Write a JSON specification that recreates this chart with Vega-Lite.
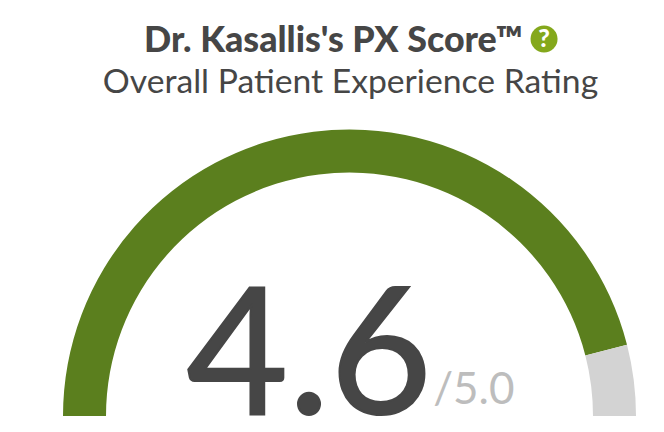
{
  "$schema": "https://vega.github.io/schema/vega-lite/v6.json",
  "width": 664, "height": 432, "padding": 0, "autosize": "none",
  "background": "white",
  "view": {"stroke": null},
  "config": {"font": "Lato"},
  "encoding": {
    "x": {"type": "quantitative", "scale": {"domain": [-1.2199, 1.0977], "nice": false, "zero": false}, "axis": null},
    "y": {"type": "quantitative", "scale": {"domain": [-0.0558, 1.4520], "nice": false, "zero": false}, "axis": null}
  },
  "layer": [
    {
      "data": {"values": [
        {"part": "score", "from": 0, "to": 4.6},
        {"part": "rest", "from": 4.6, "to": 5}
      ]},
      "mark": {"type": "arc", "radius": 286.5, "radius2": 243.5},
      "encoding": {
        "x": {"datum": 0, "type": "quantitative", "scale": {"domain": [-1.2199, 1.0977], "nice": false, "zero": false}, "axis": null},
        "y": {"datum": 0, "type": "quantitative", "scale": {"domain": [-0.0558, 1.4520], "nice": false, "zero": false}, "axis": null},
        "theta": {"field": "from", "type": "quantitative", "scale": {"domain": [0, 5], "range": [-1.5708, 1.5708]}},
        "theta2": {"field": "to"},
        "color": {"field": "part", "type": "nominal", "legend": null, "scale": {"domain": ["score", "rest"], "range": ["#5b7f1e", "#d3d3d3"]}}
      }
    },
    {
      "data": {"values": [{"t": "4.6"}]},
      "mark": {"type": "text", "fontSize": 176, "color": "#464646", "stroke": "#464646", "strokeWidth": 2, "align": "center", "baseline": "middle"},
      "encoding": {"x": {"datum": -0.141, "type": "quantitative"}, "y": {"datum": 0.191, "type": "quantitative"}, "text": {"field": "t"}}
    },
    {
      "data": {"values": [{"t": "/5.0"}]},
      "mark": {"type": "text", "fontSize": 44, "color": "#bdbdbd", "align": "left", "baseline": "alphabetic"},
      "encoding": {"x": {"datum": 0.292, "type": "quantitative"}, "y": {"datum": 0.042, "type": "quantitative"}, "text": {"field": "t"}}
    },
    {
      "data": {"values": [{"t": "Dr. Kasallis's PX Score™"}]},
      "mark": {"type": "text", "fontSize": 35.8, "fontWeight": 900, "color": "#464646", "align": "left", "baseline": "alphabetic"},
      "encoding": {"x": {"datum": -0.717, "type": "quantitative"}, "y": {"datum": 1.272, "type": "quantitative"}, "text": {"field": "t"}}
    },
    {
      "data": {"values": [{"t": "Overall Patient Experience Rating"}]},
      "mark": {"type": "text", "fontSize": 33.7, "color": "#464646", "align": "center", "baseline": "alphabetic"},
      "encoding": {"x": {"datum": 0.0035, "type": "quantitative"}, "y": {"datum": 1.127, "type": "quantitative"}, "text": {"field": "t"}}
    },
    {
      "data": {"values": [{"t": "help"}]},
      "mark": {"type": "point", "shape": "circle", "filled": true, "size": 729, "color": "#84a81c", "opacity": 1},
      "encoding": {"x": {"datum": 0.679, "type": "quantitative"}, "y": {"datum": 1.316, "type": "quantitative"}}
    },
    {
      "data": {"values": [{"t": "?"}]},
      "mark": {"type": "text", "fontSize": 25, "fontWeight": 900, "color": "white", "align": "center", "baseline": "middle"},
      "encoding": {"x": {"datum": 0.679, "type": "quantitative"}, "y": {"datum": 1.316, "type": "quantitative"}, "text": {"field": "t"}}
    }
  ]
}
